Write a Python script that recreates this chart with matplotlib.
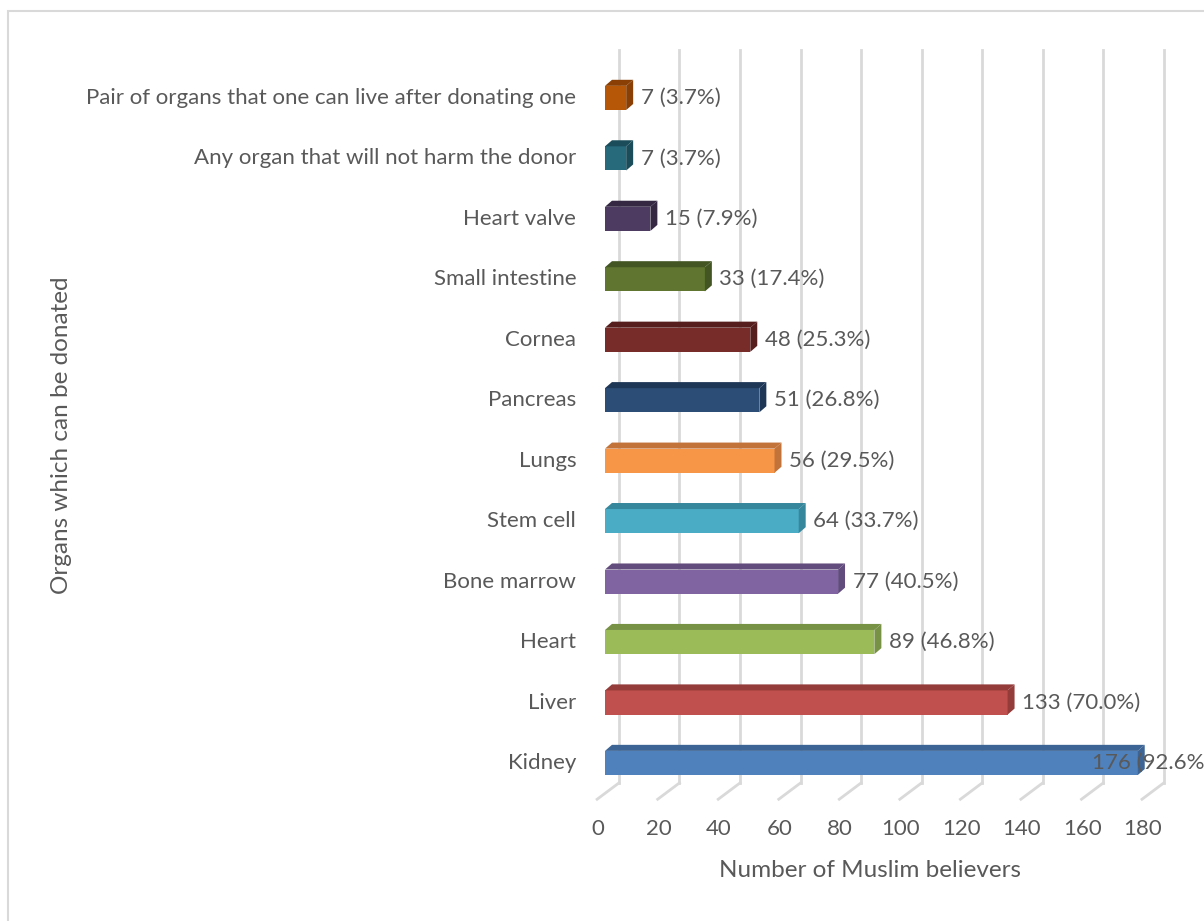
import matplotlib
matplotlib.use("Agg")
import matplotlib.pyplot as plt
from matplotlib.patches import Polygon, Rectangle

organs = ["Kidney", "Liver", "Heart", "Bone marrow", "Stem cell", "Lungs",
          "Pancreas", "Cornea", "Small intestine", "Heart valve",
          "Any organ that will not harm the donor",
          "Pair of organs that one can live after donating one"]
counts = [176, 133, 89, 77, 64, 56, 51, 48, 33, 15, 7, 7]
percents = [92.6, 70.0, 46.8, 40.5, 33.7, 29.5, 26.8, 25.3, 17.4, 7.9, 3.7, 3.7]
colors = ["#4F81BD", "#C0504D", "#9BBB59", "#8064A2", "#4BACC6", "#F79646",
          "#2C4D75", "#772C2A", "#5F7530", "#4D3B62", "#276A7C", "#B65708"]
side_colors = ["#3C6494", "#933C3A", "#779145", "#624C7E", "#37879C", "#C2733A",
               "#1F3757", "#561E1D", "#435522", "#342843", "#1A4C59", "#8A4005"]
x_ticks = list(range(0, 181, 20))

text_col = "#595959"
grid_col = "#D9D9D9"
plt.rcParams['font.family'] = ['Lato', 'DejaVu Sans']

fig = plt.figure(figsize=(12.04, 9.21), dpi=100)
W, H = 1204, 921
# plot area in pixels
left_px, right_px, bot_px, top_px = 605, 1165, 805, 50
ax = fig.add_axes([left_px / W, 1 - bot_px / H, (right_px - left_px) / W, (bot_px - top_px) / H])
ax.set_xlim(0, 185)
ax.set_ylim(-0.695, 11.793)
ax.axis("off")

# 3D depth offsets in data units
dx_back, dy_back = 4.6, -0.33
dx_front, dy_front = -2.6, -0.6
for t in x_ticks:
    ax.plot([t + dx_back, t + dx_back], [dy_back, 11.793], color=grid_col, lw=2, zorder=0, clip_on=False)
    ax.plot([t + dx_back, t + dx_front], [dy_back, dy_front], color=grid_col, lw=2, zorder=0, clip_on=False)
    ax.text(t - 2.3, -1.09, str(t), ha="center", va="center", fontsize=16, color=text_col)

bh = 0.4
ddx, ddy = 2.3, 0.1
for i, (v, c, sc) in enumerate(zip(counts, colors, side_colors)):
    y0, y1 = i - bh / 2, i + bh / 2
    ax.add_patch(Rectangle((0, y0), v, bh, facecolor=c, edgecolor="none", zorder=3))
    ax.add_patch(Polygon([(0, y1), (v, y1), (v + ddx, y1 + ddy), (ddx, y1 + ddy)],
                         closed=True, facecolor=sc, edgecolor="none", zorder=3))
    ax.add_patch(Polygon([(v, y0), (v + ddx, y0 + ddy), (v + ddx, y1 + ddy), (v, y1)],
                         closed=True, facecolor=sc, edgecolor="none", zorder=3))
    # Excel pulls the last label back inside the chart
    lx = min(v + 4.8, 161)
    ax.text(lx, i, f"{v} ({percents[i]:.1f}%)", ha="left", va="center",
            fontsize=16, color=text_col, zorder=4, clip_on=False)
    ax.text(-9.5, i, organs[i], ha="right", va="center", fontsize=16, color=text_col)

fig.text(870 / W, 1 - 870 / H, "Number of Muslim believers", ha="center", va="center",
         fontsize=17.5, color=text_col)
fig.text(62 / W, 1 - 435 / H, "Organs which can be donated", ha="center", va="center",
         rotation=90, fontsize=17.5, color=text_col)

# outer chart border
fig.patches.append(Rectangle((8 / W, -0.05), 1.1, 1 - 11 / H + 0.05, transform=fig.transFigure,
                             fill=False, edgecolor="#D9D9D9", lw=1.5))

fig.savefig("out.png", dpi=100)
